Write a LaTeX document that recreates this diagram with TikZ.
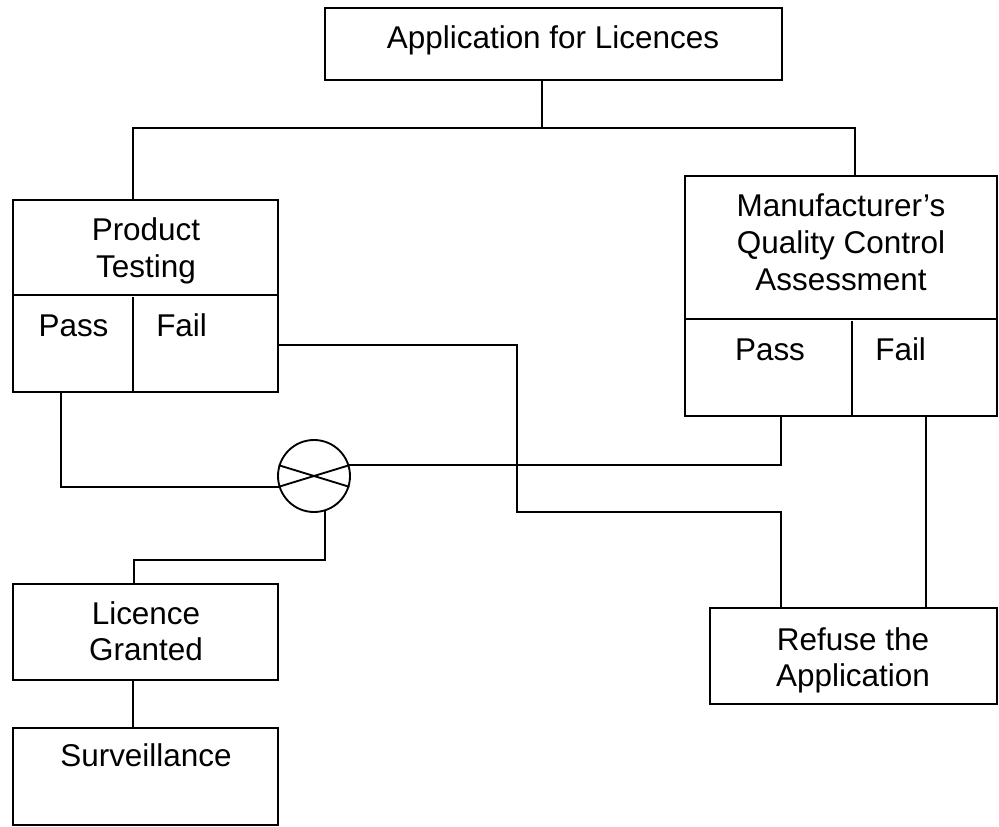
\documentclass[tikz,border=0pt]{standalone}
\usepackage{fontspec}
\setmainfont{Liberation Sans}
\usetikzlibrary{fit,calc}
\newcommand\mlines[1]{\begin{tabular}[t]{@{}c@{}}#1\end{tabular}}
\begin{document}
\begin{tikzpicture}[x=0.75pt,y=-0.75pt,
  box/.style={draw, inner sep=0pt, line width=1.4pt},
  txt/.style={anchor=base, inner sep=0pt, font=\fontsize{23.6}{27.4}\selectfont},
  txtw/.style={txt, anchor=base west},
  wire/.style={line width=1.4pt},
  sumcirc/.style={draw, circle, inner sep=0pt, minimum size=54pt, line width=1.4pt}]
\useasboundingbox (0,0) rectangle (999,827);

% boxes
\node[box, fit={(325,8) (782,80)}] (top) {};
\node[box, fit={(13,200) (278,392)}] (PT) {};
\node[box, fit={(685,176) (997,416)}] (QC) {};
\node[box, fit={(710,608) (997,704)}] (Ref) {};
\node[box, fit={(13,584) (278,680)}] (Lic) {};
\node[box, fit={(13,728) (278,825)}] (Surv) {};
\node[sumcirc] (circ) at (314,476) {};

% box subdivisions
\draw[wire] ($(PT.north west)+(0,96)$) -- ($(PT.north east)+(0,96)$);
\draw[wire] ($(PT.south west)+(121,0)$) -- ($(PT.south west)+(121,-96)$);
\draw[wire] ($(QC.north west)+(0,144)$) -- ($(QC.north east)+(0,144)$);
\draw[wire] ($(QC.south west)+(168,0)$) -- ($(QC.south west)+(168,-96)$);

% cross in circle
\draw[wire] (circ.163) -- (circ.-17);
\draw[wire] (circ.197) -- (circ.17);

% texts
\node[txt] (t-top) at (553,49) {Application for Licences};
\node[txt] (t-pt) at (146,241) {\mlines{Product\\Testing}};
\node[txt] (t-ptp) at (73.5,336) {Pass};
\node[txtw] (t-ptf) at (156,336) {Fail};
\node[txt] (t-qc) at (841,217) {\mlines{Manufacturer’s\\Quality Control\\Assessment}};
\node[txt] (t-qcp) at (770,360) {Pass};
\node[txtw] (t-qcf) at (875,360) {Fail};
\node[txt] (t-ref) at (853,650) {\mlines{Refuse the\\Application}};
\node[txt] (t-lic) at (146,624) {\mlines{Licence\\Granted}};
\node[txt] (t-surv) at (146,766) {Surveillance};

% junction coordinates
\coordinate (busL) at (133,128);
\coordinate (busR) at (855,128);
\coordinate (trunk) at (542,80);
\coordinate (j1) at (517,512);
\coordinate (j2) at (134,560);

% connectors
\draw[wire] (trunk |- top.south) -- (trunk |- busL);
\draw[wire] (busL |- PT.north) -- (busL) -- (busR) -- (busR |- QC.north);
\draw[wire] ($(PT.south west)+(49,0)$) |- (circ.197);
\draw[wire] ($(QC.south west)+(97,0)$) |- (circ.17);
\draw[wire] ($(PT.south east)+(0,-48)$) -| (j1) -| ($(Ref.north west)+(72,0)$);
\draw[wire] ($(QC.south west)+(242,0)$) -- ($(Ref.north west)+(217,0)$);
\draw[wire] (circ.-72) |- (j2) -- (j2 |- Lic.north);
\draw[wire] ($(Lic.south west)+(121,0)$) -- ($(Surv.north west)+(121,0)$);
\end{tikzpicture}
\end{document}
